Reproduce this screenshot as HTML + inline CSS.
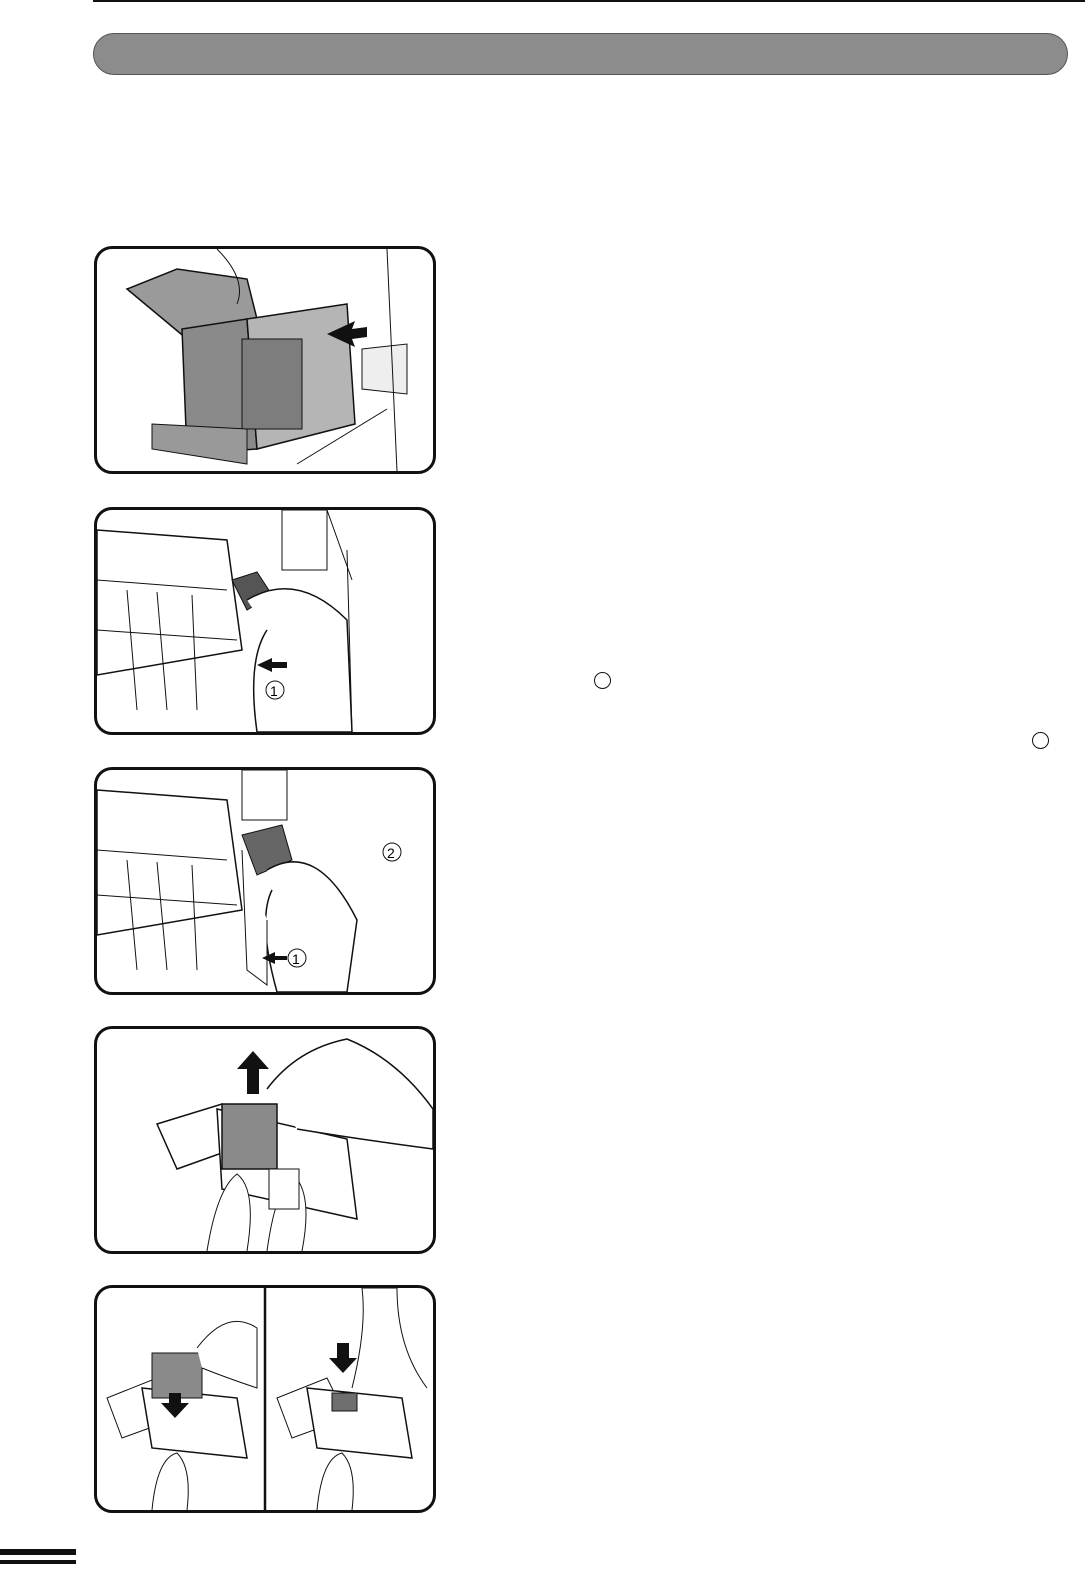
<!DOCTYPE html>
<html><head><meta charset="utf-8"><style>
html,body{margin:0;padding:0;background:#fff;}
body{width:1085px;height:1574px;position:relative;overflow:hidden;font-family:"Liberation Sans",sans-serif;}
.abs{position:absolute;}
.panel{position:absolute;left:94px;width:336px;border:3px solid #111;border-radius:18px;overflow:hidden;background:#fff;}
.circ{position:absolute;width:15px;height:15px;border:1.5px solid #111;border-radius:50%;}
</style></head><body>
<div class="abs" style="left:93px;top:0;width:992px;height:2px;background:#111"></div>
<div class="abs" style="left:93px;top:33px;width:973px;height:40px;background:#8c8c8c;border:1px solid #555;border-radius:21px"></div>

<div class="panel" style="top:246px;height:222px">
<svg width="336" height="222" viewBox="0 0 336 222">
<polygon points="30,40 80,20 150,30 160,70 90,90" fill="#9a9a9a" stroke="#111" stroke-width="1.5"/>
<polygon points="85,80 150,70 160,200 90,205" fill="#8a8a8a" stroke="#111" stroke-width="1.5"/>
<polygon points="150,70 250,55 258,175 160,200" fill="#b5b5b5" stroke="#111" stroke-width="1.5"/>
<rect x="145" y="90" width="60" height="90" fill="#7d7d7d" stroke="#111"/>
<polygon points="55,175 150,180 150,215 55,200" fill="#999" stroke="#111"/>
<polygon points="265,100 310,95 310,145 265,140" fill="#eee" stroke="#111"/>
<line x1="290" y1="0" x2="300" y2="222" stroke="#111"/>
<line x1="200" y1="215" x2="290" y2="160" stroke="#111"/>
<polygon points="230,85 258,72 255,80 270,78 270,88 255,90 258,98" fill="#111"/>
<path d="M120 0 Q150 30 140 55" stroke="#111" fill="none"/>
</svg></div>

<div class="panel" style="top:507px;height:222px">
<svg width="336" height="222" viewBox="0 0 336 222">
<polygon points="0,20 130,30 145,140 0,165" fill="none" stroke="#111" stroke-width="1.5"/>
<line x1="0" y1="70" x2="130" y2="80" stroke="#111"/><line x1="0" y1="120" x2="140" y2="130" stroke="#111"/>
<line x1="30" y1="80" x2="40" y2="200" stroke="#111"/><line x1="60" y1="82" x2="70" y2="200" stroke="#111"/>
<line x1="95" y1="85" x2="100" y2="200" stroke="#111"/>
<rect x="185" y="0" width="45" height="60" fill="none" stroke="#111"/>
<polygon points="135,70 160,62 175,85 150,100" fill="#555" stroke="#111"/>
<path d="M150 90 Q200 60 250 110 L255 222 L160 222 Q150 150 170 120" fill="#fff" stroke="#111" stroke-width="1.5"/>
<line x1="230" y1="0" x2="255" y2="70" stroke="#111"/><line x1="250" y1="40" x2="255" y2="222" stroke="#111"/>
<polygon points="160,155 175,148 175,152 190,152 190,158 175,158 175,162" fill="#111"/>
<circle cx="178" cy="180" r="9" fill="none" stroke="#111"/>
<text x="173" y="186" font-size="14" font-family="Liberation Sans">1</text>
</svg></div>

<div class="panel" style="top:767px;height:222px">
<svg width="336" height="222" viewBox="0 0 336 222">
<polygon points="0,20 130,30 145,140 0,165" fill="none" stroke="#111" stroke-width="1.5"/>
<line x1="0" y1="80" x2="130" y2="90" stroke="#111"/><line x1="0" y1="125" x2="140" y2="135" stroke="#111"/>
<line x1="30" y1="90" x2="40" y2="200" stroke="#111"/><line x1="60" y1="92" x2="70" y2="200" stroke="#111"/>
<line x1="95" y1="95" x2="100" y2="200" stroke="#111"/>
<rect x="145" y="0" width="45" height="50" fill="none" stroke="#111"/>
<polygon points="145,65 185,55 195,90 160,105" fill="#666" stroke="#111"/>
<path d="M170 100 Q220 70 260 150 L250 222 L180 222 Q160 150 175 120" fill="#fff" stroke="#111" stroke-width="1.5"/>
<path d="M145 80 L150 200 L170 215 L170 150" fill="#fff" stroke="#111"/>
<circle cx="295" cy="82" r="9" fill="none" stroke="#111"/><text x="290" y="88" font-size="14" font-family="Liberation Sans">2</text>
<circle cx="200" cy="188" r="9" fill="none" stroke="#111"/><text x="195" y="194" font-size="14" font-family="Liberation Sans">1</text>
<polygon points="165,188 178,182 178,186 190,186 190,190 178,190 178,194" fill="#111"/>
</svg></div>

<div class="panel" style="top:1026px;height:222px">
<svg width="336" height="222" viewBox="0 0 336 222">
<polygon points="60,95 125,75 150,115 80,140" fill="#fff" stroke="#111" stroke-width="1.5"/>
<polygon points="120,80 250,110 260,190 125,160" fill="#fff" stroke="#111" stroke-width="1.5"/>
<rect x="125" y="75" width="55" height="65" fill="#8a8a8a" stroke="#111" stroke-width="1.5"/>
<polygon points="150,65 162,65 162,40 172,40 156,22 140,40 150,40" fill="#111"/>
<path d="M170 60 Q200 20 250 10 Q300 30 336 80 L336 120 Q260 110 200 100" fill="#fff" stroke="#111" stroke-width="1.5"/>
<path d="M110 222 Q120 160 140 145 Q160 160 150 222" fill="#fff" stroke="#111"/>
<path d="M170 222 Q180 150 200 150 Q215 170 205 222" fill="#fff" stroke="#111"/>
<rect x="172" y="140" width="30" height="40" fill="#fff" stroke="#111"/>
</svg></div>

<div class="panel" style="top:1285px;height:222px">
<svg width="336" height="222" viewBox="0 0 336 222">
<line x1="168" y1="0" x2="168" y2="222" stroke="#111" stroke-width="2.5"/>
<polygon points="10,110 60,90 80,130 25,150" fill="#fff" stroke="#111"/>
<polygon points="45,100 140,110 150,170 55,160" fill="#fff" stroke="#111" stroke-width="1.5"/>
<rect x="55" y="65" width="50" height="45" fill="#8a8a8a" stroke="#111"/>
<polygon points="72,105 84,105 84,115 92,115 78,130 64,115 72,115" fill="#111"/>
<path d="M100 60 Q130 20 160 40 L160 100 Q130 90 105 80" fill="#fff" stroke="#111"/>
<path d="M55 222 Q60 170 80 165 Q95 180 90 222" fill="#fff" stroke="#111"/>
<polygon points="180,110 230,90 250,130 195,150" fill="#fff" stroke="#111"/>
<polygon points="210,100 305,110 315,170 220,160" fill="#fff" stroke="#111" stroke-width="1.5"/>
<rect x="235" y="105" width="25" height="18" fill="#6e6e6e" stroke="#111"/>
<polygon points="240,55 252,55 252,70 260,70 246,85 232,70 240,70" fill="#111"/>
<path d="M255 100 Q270 40 265 0 L300 0 Q300 60 330 100" fill="#fff" stroke="#111"/>
<path d="M220 222 Q225 170 245 165 Q260 180 255 222" fill="#fff" stroke="#111"/>
</svg></div>

<div class="circ" style="left:594px;top:672px"></div>
<div class="circ" style="left:1032px;top:732px"></div>

<div class="abs" style="left:0;top:1549px;width:76px;height:6px;background:#111"></div>
<div class="abs" style="left:0;top:1560px;width:76px;height:4px;background:#111"></div>
</body></html>
